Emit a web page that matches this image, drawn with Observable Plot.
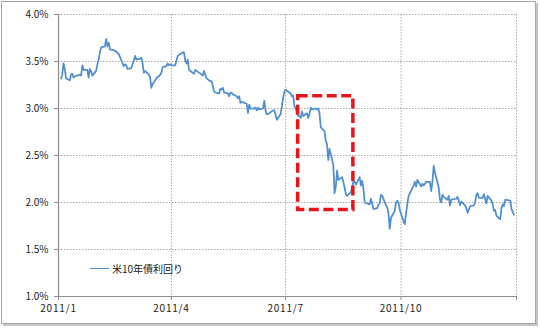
<!DOCTYPE html>
<html><head><meta charset="utf-8">
<script src="https://cdn.jsdelivr.net/npm/d3@7"></script>
<script src="https://cdn.jsdelivr.net/npm/@observablehq/plot@0.6"></script>
<style>
body{margin:0;background:#fff;}
#wrap{position:relative;width:540px;height:328px;overflow:hidden;}
#border{position:absolute;left:1px;top:1px;width:533px;height:321px;border:1px solid #a6a6a6;box-shadow:2px 2px 0 #c4c4c4;pointer-events:none;}
#legend{position:absolute;left:90px;top:261px;font:10px "Noto Sans CJK JP";color:#222;display:flex;align-items:center;}
#legend span{display:inline-block;width:19px;height:0;border-top:1.5px solid #4f8fd0;margin-right:3px;}
.xax text{letter-spacing:0.8px;}
</style></head><body>
<div id="wrap"><div id="chart"></div><div id="border"></div><div id="legend"><span></span>米10年債利回り</div></div>
<script>
const dates = [
"2011-01-03","2011-01-04","2011-01-05","2011-01-06","2011-01-07","2011-01-10","2011-01-11","2011-01-12","2011-01-13","2011-01-14","2011-01-18","2011-01-19","2011-01-20","2011-01-21","2011-01-24","2011-01-25","2011-01-26","2011-01-27","2011-01-28","2011-01-31",
"2011-02-01","2011-02-02","2011-02-03","2011-02-04","2011-02-07","2011-02-08","2011-02-09","2011-02-10","2011-02-11","2011-02-14","2011-02-15","2011-02-16","2011-02-17","2011-02-18","2011-02-22","2011-02-23","2011-02-24","2011-02-25","2011-02-28",
"2011-03-01","2011-03-02","2011-03-03","2011-03-04","2011-03-07","2011-03-08","2011-03-09","2011-03-10","2011-03-11","2011-03-14","2011-03-15","2011-03-16","2011-03-17","2011-03-18","2011-03-21","2011-03-22","2011-03-23","2011-03-24","2011-03-25","2011-03-28","2011-03-29","2011-03-30","2011-03-31",
"2011-04-01","2011-04-04","2011-04-05","2011-04-06","2011-04-07","2011-04-08","2011-04-11","2011-04-12","2011-04-13","2011-04-14","2011-04-15","2011-04-18","2011-04-19","2011-04-20","2011-04-21","2011-04-25","2011-04-26","2011-04-27","2011-04-28","2011-04-29",
"2011-05-02","2011-05-03","2011-05-04","2011-05-05","2011-05-06","2011-05-09","2011-05-10","2011-05-11","2011-05-12","2011-05-13","2011-05-16","2011-05-17","2011-05-18","2011-05-19","2011-05-20","2011-05-23","2011-05-24","2011-05-25","2011-05-26","2011-05-27","2011-05-31",
"2011-06-01","2011-06-02","2011-06-03","2011-06-06","2011-06-07","2011-06-08","2011-06-09","2011-06-10","2011-06-13","2011-06-14","2011-06-15","2011-06-16","2011-06-17","2011-06-20","2011-06-21","2011-06-22","2011-06-23","2011-06-24","2011-06-27","2011-06-28","2011-06-29","2011-06-30",
"2011-07-01","2011-07-05","2011-07-06","2011-07-07","2011-07-08","2011-07-11","2011-07-12","2011-07-13","2011-07-14","2011-07-15","2011-07-18","2011-07-19","2011-07-20","2011-07-21","2011-07-22","2011-07-25","2011-07-26","2011-07-27","2011-07-28","2011-07-29",
"2011-08-01","2011-08-02","2011-08-03","2011-08-04","2011-08-05","2011-08-08","2011-08-09","2011-08-10","2011-08-11","2011-08-12","2011-08-15","2011-08-16","2011-08-17","2011-08-18","2011-08-19","2011-08-22","2011-08-23","2011-08-24","2011-08-25","2011-08-26","2011-08-29","2011-08-30","2011-08-31",
"2011-09-01","2011-09-02","2011-09-06","2011-09-07","2011-09-08","2011-09-09","2011-09-12","2011-09-13","2011-09-14","2011-09-15","2011-09-16","2011-09-19","2011-09-20","2011-09-21","2011-09-22","2011-09-23","2011-09-26","2011-09-27","2011-09-28","2011-09-29","2011-09-30",
"2011-10-03","2011-10-04","2011-10-05","2011-10-06","2011-10-07","2011-10-11","2011-10-12","2011-10-13","2011-10-14","2011-10-17","2011-10-18","2011-10-19","2011-10-20","2011-10-21","2011-10-24","2011-10-25","2011-10-26","2011-10-27","2011-10-28","2011-10-31",
"2011-11-01","2011-11-02","2011-11-03","2011-11-04","2011-11-07","2011-11-08","2011-11-09","2011-11-10","2011-11-14","2011-11-15","2011-11-16","2011-11-17","2011-11-18","2011-11-21","2011-11-22","2011-11-23","2011-11-25","2011-11-28","2011-11-29","2011-11-30",
"2011-12-01","2011-12-02","2011-12-05","2011-12-06","2011-12-07","2011-12-08","2011-12-09","2011-12-12","2011-12-13","2011-12-14","2011-12-15","2011-12-16","2011-12-19","2011-12-20","2011-12-21","2011-12-22","2011-12-23","2011-12-27","2011-12-28","2011-12-29","2011-12-30"
];
const yields = [
3.32,3.36,3.48,3.42,3.32,3.30,3.36,3.37,3.33,3.34,3.36,3.35,3.46,3.41,3.41,3.33,3.42,3.40,3.35,3.40,
3.47,3.52,3.60,3.65,3.66,3.74,3.66,3.70,3.63,3.62,3.61,3.61,3.59,3.58,3.45,3.47,3.46,3.42,3.43,
3.47,3.51,3.56,3.52,3.53,3.54,3.48,3.38,3.40,3.36,3.33,3.22,3.26,3.28,3.34,3.34,3.36,3.38,3.44,3.45,3.48,3.46,3.47,
3.46,3.46,3.51,3.56,3.57,3.58,3.60,3.51,3.48,3.52,3.41,3.38,3.37,3.41,3.40,3.36,3.35,3.40,3.36,3.32,
3.29,3.29,3.24,3.18,3.17,3.16,3.21,3.20,3.22,3.17,3.16,3.13,3.17,3.17,3.15,3.13,3.11,3.13,3.06,3.07,3.05,
2.95,3.04,3.00,3.00,3.01,2.98,3.01,2.99,3.00,3.08,2.98,2.94,2.94,2.97,2.98,2.98,2.93,2.88,2.94,3.02,3.11,3.18,
3.20,3.16,3.13,3.14,3.03,2.92,2.92,2.90,2.97,2.92,2.95,2.90,2.94,3.01,2.99,3.00,2.99,3.00,2.95,2.80,
2.76,2.66,2.62,2.45,2.57,2.40,2.10,2.17,2.34,2.24,2.27,2.22,2.16,2.09,2.07,2.11,2.15,2.23,2.22,2.19,2.27,2.18,2.23,
2.15,2.00,1.98,2.04,1.99,1.93,1.94,1.98,1.99,2.08,2.07,1.97,1.95,1.88,1.72,1.84,1.91,2.00,2.02,2.00,1.92,
1.80,1.77,1.89,1.98,2.07,2.18,2.22,2.17,2.24,2.17,2.20,2.18,2.20,2.22,2.22,2.12,2.22,2.39,2.32,2.16,
2.03,2.00,2.08,2.06,2.03,2.07,1.97,2.03,2.04,2.06,2.02,1.97,2.01,1.97,1.94,1.89,1.96,1.97,2.00,2.08,
2.10,2.05,2.05,2.09,2.04,1.99,2.07,2.02,1.98,1.91,1.92,1.86,1.82,1.94,1.98,1.96,2.03,2.02,1.93,1.90,1.87
];
const yTicks = [1.0,1.5,2.0,2.5,3.0,3.5,4.0];
const xTickDates = ["2011-01-01","2011-04-01","2011-07-01","2011-10-01","2012-01-01"];
const xTickLabels = ["2011/1","2011/4","2011/7","2011/10",""];
const highlight = [{start:"2011-07-11", end:"2011-08-24", low:1.92, high:3.13}];

const data = dates.map((d,i)=>({date:new Date(d), value:yields[i]}));
const xt = xTickDates.map(d=>new Date(d));
const labelOf = new Map(xt.map((d,i)=>[+d, xTickLabels[i]]));
const hl = highlight.map(h=>({x1:new Date(h.start), x2:new Date(h.end), y1:h.low, y2:h.high}));
const gridStyle = {stroke:"#a8a8a8", strokeOpacity:1, strokeWidth:1, strokeDasharray:"1.5,1.5"};

const chart = Plot.plot({
  width:540, height:328,
  marginLeft:58, marginRight:24, marginTop:14, marginBottom:32,
  style:{fontFamily:'"Noto Sans CJK JP", sans-serif', fontSize:"10px", color:"#222", background:"transparent"},
  x:{type:"utc", domain:[new Date("2011-01-01"), new Date("2012-01-01")]},
  y:{domain:[1,4]},
  marks:[
    Plot.gridY(yTicks, gridStyle),
    Plot.gridX(xt, gridStyle),
    Plot.ruleY([1], {stroke:"#8c8c8c", strokeWidth:1.2}),
    Plot.ruleX([xt[0]], {stroke:"#8c8c8c", strokeWidth:1.2}),
    Plot.axisY(yTicks, {tickFormat:d=>d.toFixed(1)+"%", tickSize:4, tickPadding:6, stroke:"#8c8c8c", fill:"#222", label:null}),
    Plot.axisX(xt, {tickFormat:d=>labelOf.get(+d), tickSize:4, tickPadding:4, stroke:"#8c8c8c", fill:"#222", label:null, className:"xax"}),
    Plot.line(data, {x:"date", y:"value", stroke:"#4f8fd0", strokeWidth:1.75, strokeLinejoin:"round"}),
    Plot.rect(hl, {x1:"x1", x2:"x2", y1:"y1", y2:"y2", fill:"none", stroke:"#e8141b", strokeWidth:3.5, strokeDasharray:"10,4.5"})
  ]
});
document.getElementById("chart").appendChild(chart);
</script>
</body></html>
